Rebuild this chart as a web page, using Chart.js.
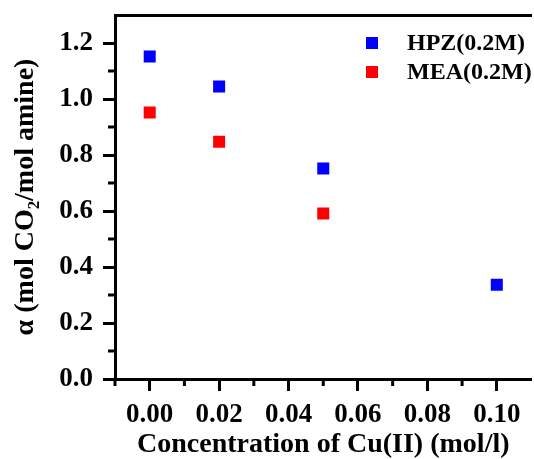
<!DOCTYPE html>
<html>
<head>
<meta charset="utf-8">
<script src="https://cdn.jsdelivr.net/npm/chart.js@4"></script>
<style>
  html, body { margin: 0; padding: 0; background: #fff; overflow: hidden; }
  #wrap { width: 540px; height: 459px; }
</style>
</head>
<body>
<div id="wrap"><canvas id="alphaChart" width="540" height="459"></canvas></div>
<script>
// ── Data ──
const hpzConc  = [0.00, 0.02, 0.05, 0.10];
const hpzAlpha = [1.152, 1.045, 0.752, 0.337];
const meaConc  = [0.00, 0.02, 0.05];
const meaAlpha = [0.952, 0.847, 0.591];

const seriesLabels = ['HPZ(0.2M)', 'MEA(0.2M)'];

const xTickValues  = [0.00, 0.02, 0.04, 0.06, 0.08, 0.10];
const xMinorValues = [-0.01, 0.01, 0.03, 0.05, 0.07, 0.09];
const yTickValues  = [0.0, 0.2, 0.4, 0.6, 0.8, 1.0, 1.2];
const yMinorValues = [0.1, 0.3, 0.5, 0.7, 0.9, 1.1];

const FONT = 'Liberation Serif';

// ── Minor ticks (Chart.js has no minor ticks, so draw them off the scales) ──
const minorTicks = {
  id: 'minorTicks',
  afterDraw(chart) {
    const { ctx, chartArea, scales } = chart;
    ctx.save();
    ctx.strokeStyle = '#000';
    ctx.lineWidth = 3;
    ctx.beginPath();
    xMinorValues.forEach(v => {
      const px = scales.x.getPixelForValue(v);
      ctx.moveTo(px, chartArea.bottom);
      ctx.lineTo(px, chartArea.bottom + 7);
    });
    yMinorValues.forEach(v => {
      const py = scales.y.getPixelForValue(v);
      ctx.moveTo(chartArea.left, py);
      ctx.lineTo(chartArea.left - 7, py);
    });
    ctx.stroke();
    ctx.restore();
  },
};

// ── Legend inside the plot, top right ──
const insideLegend = {
  id: 'insideLegend',
  afterDraw(chart) {
    const { ctx, chartArea } = chart;
    ctx.save();
    ctx.font = `bold 24px "${FONT}"`;
    ctx.textBaseline = 'middle';
    ctx.textAlign = 'left';
    chart.data.datasets.forEach((ds, i) => {
      const cy = chartArea.top + 28 + i * 29;
      const sx = chartArea.left + 251;
      ctx.fillStyle = ds.backgroundColor;
      ctx.fillRect(sx, cy - 6, 12, 12);
      ctx.fillStyle = '#000';
      ctx.fillText(ds.label, sx + 41, cy + 1);
    });
    ctx.restore();
  },
};

const toPoints = (xs, ys) => xs.map((x, i) => ({ x, y: ys[i] }));

new Chart(document.getElementById('alphaChart'), {
  type: 'scatter',
  data: {
    datasets: [
      {
        label: seriesLabels[0],
        data: toPoints(hpzConc, hpzAlpha),
        backgroundColor: '#0000ff',
        borderColor: '#0000ff',
        pointStyle: 'rect',
        pointRadius: 8.5,
        pointHoverRadius: 8.5,
        pointBorderWidth: 0,
      },
      {
        label: seriesLabels[1],
        data: toPoints(meaConc, meaAlpha),
        backgroundColor: '#ff0000',
        borderColor: '#ff0000',
        pointStyle: 'rect',
        pointRadius: 8.5,
        pointHoverRadius: 8.5,
        pointBorderWidth: 0,
      },
    ],
  },
  options: {
    responsive: false,
    animation: false,
    devicePixelRatio: 1,
    layout: { padding: { left: 0, right: 3, top: 0, bottom: 0 } },
    plugins: {
      legend: { display: false },
      tooltip: { enabled: false },
    },
    scales: {
      x: {
        type: 'linear',
        position: 'bottom',
        min: -0.01,
        max: 0.11,
        afterBuildTicks: scale => {
          scale.ticks = xTickValues.map(value => ({ value }));
        },
        afterFit: scale => {
          scale.height = 80;
          scale.paddingLeft = 0;
          scale.paddingRight = 0;
        },
        grid: {
          drawOnChartArea: false,
          tickLength: 12,
          tickWidth: 3,
          tickColor: '#000',
        },
        border: { color: '#000', width: 3 },
        ticks: {
          color: '#000',
          padding: 8,
          font: { family: FONT, size: 27, weight: 'bold' },
          callback: v => v.toFixed(2),
        },
        title: {
          display: true,
          text: 'Concentration of Cu(II) (mol/l)',
          color: '#000',
          font: { family: FONT, size: 28, weight: 'bold' },
          padding: { top: 0, bottom: -3 },
        },
      },
      xTop: {
        type: 'linear',
        position: 'top',
        min: -0.01,
        max: 0.11,
        afterFit: scale => { scale.height = 15; },
        grid: { display: false },
        border: { display: true, color: '#000', width: 3 },
        ticks: { display: false },
      },
      y: {
        type: 'linear',
        min: 0,
        max: 1.3,
        afterBuildTicks: scale => {
          scale.ticks = yTickValues.map(value => ({ value }));
        },
        afterFit: scale => {
          scale.width = 115;
          scale.paddingTop = 0;
          scale.paddingBottom = 0;
        },
        grid: {
          drawOnChartArea: false,
          tickLength: 12,
          tickWidth: 3,
          tickColor: '#000',
        },
        border: { color: '#000', width: 3 },
        ticks: {
          color: '#000',
          padding: 10,
          font: { family: FONT, size: 27, weight: 'bold' },
          callback: v => v.toFixed(1),
        },
        title: {
          display: true,
          text: 'α (mol CO₂/mol amine)',
          color: '#000',
          font: { family: FONT, size: 28, weight: 'bold' },
          padding: { top: 9, bottom: 0 },
        },
      },
    },
  },
  plugins: [minorTicks, insideLegend],
});
</script>
</body>
</html>
